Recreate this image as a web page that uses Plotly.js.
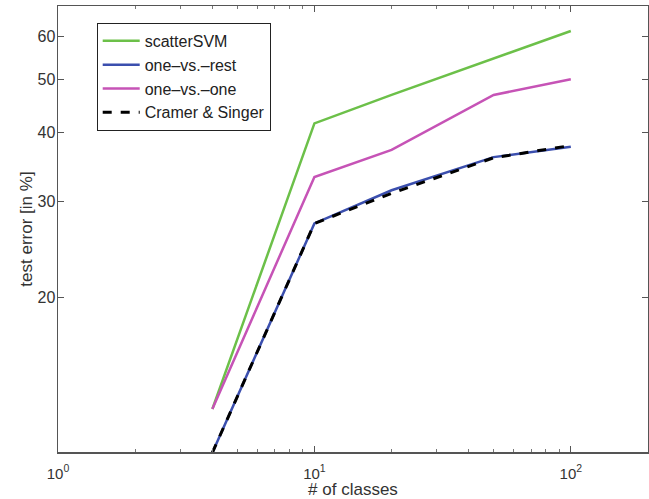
<!DOCTYPE html>
<html>
<head>
<meta charset="utf-8">
<script src="https://cdn.plot.ly/plotly-3.0.1.min.js"></script>
<style>html,body{margin:0;padding:0;background:#fff;}#chart{width:649px;height:499px;}</style>
</head>
<body>
<div id="chart"></div>
<script>
const numClasses = [4, 10, 20, 50, 100];
const scatterSVM = [12.5, 41.6, 46.9, 54.6, 61.4];
const oneVsRest = [10.4, 27.3, 31.4, 36.1, 37.7];
const oneVsOne = [12.5, 33.2, 37.2, 46.9, 50.1];
const cramerSinger = [10.4, 27.3, 31.0, 36.0, 37.9];
const seriesNames = ['scatterSVM', 'one\u2013vs.\u2013rest', 'one\u2013vs.\u2013one', 'Cramer & Singer'];
const xTickVals = [1, 10, 100];
const xTickText = ['10<sup>0</sup>', '10<sup>1</sup>', '10<sup>2</sup>'];
const xMinorVals = [2,3,4,5,6,7,8,9,20,30,40,50,60,70,80,90,200];
const yTickVals = [20, 30, 40, 50, 60];
const yTickText = ['20', '30', '40', '50', '60'];

const fontFam = 'Liberation Sans, Arial, sans-serif';
const traces = [
  {x: numClasses, y: scatterSVM, name: seriesNames[0], mode: 'lines', line: {color: '#6cc049', width: 2.5}, legendgroup: 'a'},
  {x: numClasses, y: oneVsRest, name: seriesNames[1], mode: 'lines', line: {color: '#3b4fae', width: 2.5}, legendgroup: 'b'},
  {x: numClasses, y: oneVsOne, name: seriesNames[2], mode: 'lines', line: {color: '#c653b6', width: 2.5}, legendgroup: 'c'},
  {x: numClasses, y: cramerSinger, name: seriesNames[3], mode: 'lines', line: {color: '#000000', width: 3, dash: 'dash'}, legendgroup: 'd'}
];

const layout = {
  width: 649, height: 499,
  margin: {l: 58, r: 1, t: 6, b: 47},
  paper_bgcolor: '#fff', plot_bgcolor: '#fff',
  font: {family: fontFam, size: 16, color: '#333'},
  showlegend: true,
  legend: {
    x: 0.0656, y: 0.962, xanchor: 'left', yanchor: 'top',
    bgcolor: '#fff', bordercolor: '#222', borderwidth: 1,
    font: {family: fontFam, size: 16, color: '#222'},
    tracegroupgap: 0, traceorder: 'grouped', itemwidth: 37
  },
  xaxis: {
    type: 'log', range: [0, Math.log10(200)],
    tickvals: xTickVals, ticktext: xTickText,
    ticks: 'inside', ticklen: 6, tickcolor: '#555',
    minor: {tickvals: xMinorVals, ticks: 'inside', ticklen: 3, tickcolor: '#777'},
    showline: true, linecolor: '#555', linewidth: 1.5, mirror: 'ticks',
    showgrid: false, zeroline: false,
    tickfont: {size: 15, color: '#333'},
    ticklabelstandoff: 7,
    title: {text: '# of classes', font: {size: 17, color: '#333'}, standoff: 2}
  },
  yaxis: {
    type: 'log', range: [Math.log10(10.43), Math.log10(68.2)],
    tickvals: yTickVals, ticktext: yTickText,
    ticks: 'inside', ticklen: 6, tickcolor: '#555',
    showline: true, linecolor: '#555', linewidth: 1.5, mirror: 'ticks',
    showgrid: false, zeroline: false,
    tickfont: {size: 16, color: '#333'},
    ticklabelstandoff: -2,
    title: {text: 'test error [in %]', font: {size: 17, color: '#333'}, standoff: 0}
  }
};

Plotly.newPlot('chart', traces, layout, {displayModeBar: false, staticPlot: true});
</script>
</body>
</html>
